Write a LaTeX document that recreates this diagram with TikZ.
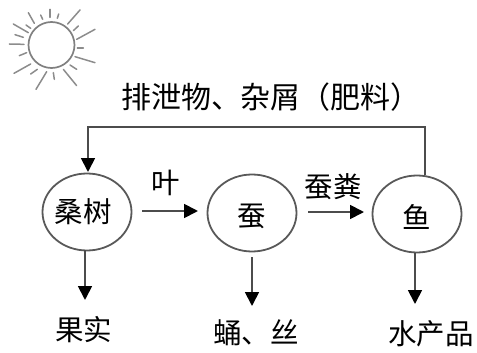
\documentclass[tikz,border=0pt]{standalone}
\usepackage{fontspec}
\setmainfont{Noto Sans CJK SC}
\usetikzlibrary{arrows.meta,calc,shapes.geometric}
\tikzset{
  bubble/.style={draw=black!65,line width=1.8pt,ellipse,inner sep=0pt,minimum width=89pt,minimum height=77pt},
  txt/.style={font=\fontsize{28.5}{28.5}\selectfont,inner sep=0pt,text=black},
  flow/.style={draw=black!70,line width=1.8pt,-{Triangle[length=14pt,width=14pt,color=black]}},
  ray/.style={draw=black!45,line width=1.5pt,line cap=round}
}
\begin{document}
\begin{tikzpicture}[x=1pt,y=-1pt]
\useasboundingbox (0,0) rectangle (477,353);
% sun
\draw[draw=black!50,line width=1.7pt] (51.5,45) circle (23);
\foreach \a/\b/\c/\d in {203/72/240/30,220/92/235/78,230/118/285/88,232/144/250/144,225/170/285/188,210/195/230/208,190/208/230/257,160/218/163/238,140/215/108/268,112/208/92/222,92/192/42/220,80/158/58/167,72/133/28/132,70/112/45/104,85/98/40/72,92/85/78/75,103/70/85/38,128/58/122/45,150/52/150/28,172/55/176/42}
  \draw[ray] (\a/3,\b/3) -- (\c/3,\d/3);
% ellipses
\node[bubble] (sang) at (87,212) {};
\node[bubble] (can) at (252,213) {};
\node[bubble] (yu) at (417,214) {};
% labels
\node[txt] (tsang) at (83,212) {桑树};
\node[txt] (tcan) at (252,216) {蚕};
\node[txt] (tyu) at (417,217) {鱼};
\node[txt,font=\fontsize{30}{30}\selectfont] (top) at (271,97) {排泄物、杂屑（肥料）};
\node[txt] (ye) at (166,183) {叶};
\node[txt] (fen) at (333,187) {蚕粪};
\node[txt] (guo) at (84,330) {果实};
\node[txt] (yong) at (256,333) {蛹、丝};
\node[txt] (shui) at (431,334) {水产品};
% free ends
\coordinate (a1) at (142,211);
\coordinate (a2) at (198,211);
\coordinate (b1) at (308,212);
\coordinate (b2) at (364,212);
\coordinate (c1) at (85,250);
\coordinate (c2) at (85,300);
\coordinate (d1) at (252,257);
\coordinate (d2) at (252,306);
\coordinate (e1) at (415,253);
\coordinate (e2) at (415,304);
\coordinate (f1) at (425,175);
\coordinate (f2) at (425,127);
\coordinate (f3) at (88,127);
\coordinate (f4) at (88,172);
% connectors
\draw[flow] (a1) -- (a2);
\draw[flow] (b1) -- (b2);
\draw[flow] (c1) -- (c2);
\draw[flow] (d1) -- (d2);
\draw[flow] (e1) -- (e2);
\draw[flow] (f1) -- (f2) -- (f3) -- (f4);
\end{tikzpicture}
\end{document}
